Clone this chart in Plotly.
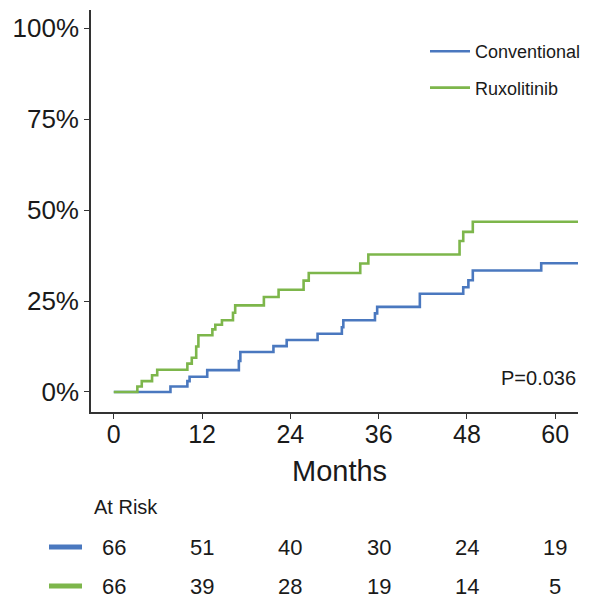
import plotly.graph_objects as go

# Cumulative incidence curves (months, percent)
conv_t = [0, 7.7, 10.0, 10.3, 12.7, 17.0, 17.2, 21.7, 23.5, 27.7, 31.0, 31.2, 35.5, 35.8, 41.6, 47.5, 48.2, 48.8, 58.1, 63.1]
conv_p = [0, 1.5, 3.0, 4.2, 6.0, 8.5, 11.0, 12.6, 14.3, 16.0, 17.8, 19.7, 21.6, 23.4, 27.0, 28.8, 30.7, 33.4, 35.4, 35.4]

rux_t = [0, 3.2, 3.8, 5.2, 5.9, 10.0, 10.6, 11.2, 11.5, 13.4, 13.8, 14.7, 16.2, 16.5, 20.4, 22.4, 25.8, 26.5, 33.5, 34.6, 47.0, 47.5, 48.8, 63.1]
rux_p = [0, 1.5, 3.0, 4.6, 6.1, 7.8, 9.4, 12.5, 15.6, 17.2, 18.5, 19.7, 21.8, 23.8, 26.1, 28.1, 30.6, 32.7, 35.3, 37.8, 41.5, 44.0, 46.8, 46.8]

x_ticks = [0, 12, 24, 36, 48, 60]
y_ticks = [0, 25, 50, 75, 100]
y_tick_labels = ["0%", "25%", "50%", "75%", "100%"]

risk_conv = [66, 51, 40, 30, 24, 19]
risk_rux = [66, 39, 28, 19, 14, 5]
p_value_text = "P=0.036"

BLUE = "#4A78BF"
GREEN = "#7DB64B"
TXT = "#1a1a1a"
FONT = "Liberation Sans, Arial, Helvetica, sans-serif"

# page offset (browser body margin) compensation
OFF = 8
W, H = 595 - OFF, 602 - OFF

fig = go.Figure()
fig.add_trace(go.Scatter(x=conv_t, y=conv_p, mode="lines", line=dict(color=BLUE, width=2.6, shape="hv"),
                         name="Conventional", legendgroup="a"))
fig.add_trace(go.Scatter(x=rux_t, y=rux_p, mode="lines", line=dict(color=GREEN, width=2.6, shape="hv"),
                         name="Ruxolitinib", legendgroup="b"))

# plot area geometry in window pixels
top_px, bot_px = 10, 412
l_px, r_px = 91, 578
ph = bot_px - top_px
pw = r_px - l_px
def py(ypix):
    return (bot_px - ypix) / ph
def pxp(xpix):
    return (xpix - l_px) / pw

annotations = []
annotations.append(dict(text=p_value_text, xref="paper", yref="paper", x=1.0, y=py(378), xanchor="right",
                        yanchor="middle", showarrow=False, font=dict(size=20, color=TXT, family=FONT)))
annotations.append(dict(text="At Risk", xref="paper", yref="paper", x=pxp(92), y=py(507), xanchor="left",
                        yanchor="middle", showarrow=False, font=dict(size=20, color=TXT, family=FONT)))
annotations.append(dict(text="Months", xref="paper", yref="paper", x=pxp(339), y=py(471), xanchor="center",
                        yanchor="middle", showarrow=False, font=dict(size=29, color=TXT, family=FONT)))
for xt, a, b in zip(x_ticks, risk_conv, risk_rux):
    annotations.append(dict(text=str(a), xref="x", yref="paper", x=xt, y=py(547), xanchor="center",
                            yanchor="middle", showarrow=False, font=dict(size=22, color=TXT, family=FONT)))
    annotations.append(dict(text=str(b), xref="x", yref="paper", x=xt, y=py(586), xanchor="center",
                            yanchor="middle", showarrow=False, font=dict(size=22, color=TXT, family=FONT)))

shapes = []
for ypix, col in [(547, BLUE), (586, GREEN)]:
    shapes.append(dict(type="line", xref="paper", yref="paper", x0=pxp(49), x1=pxp(82), y0=py(ypix), y1=py(ypix),
                       line=dict(color=col, width=5)))

fig.update_layout(
    width=W, height=H,
    margin=dict(l=l_px - OFF, r=595 - r_px, t=top_px - OFF, b=602 - bot_px, autoexpand=False),
    plot_bgcolor="white", paper_bgcolor="white",
    font=dict(family=FONT, color=TXT),
    showlegend=True,
    legend=dict(x=pxp(425), y=py(33), xanchor="left", yanchor="top", bgcolor="rgba(0,0,0,0)",
                font=dict(size=18, color=TXT, family=FONT), tracegroupgap=10, traceorder="grouped",
                itemwidth=40),
    annotations=annotations,
    shapes=shapes,
)
fig.update_xaxes(range=[-3.1, 63.1], tickvals=x_ticks, ticktext=[str(v) for v in x_ticks],
                 showline=True, linecolor="#333333", linewidth=1.6, ticks="outside", ticklen=5,
                 tickcolor="#333333", tickwidth=1.4, showgrid=False, zeroline=False, automargin=False,
                 ticklabelstandoff=-6,
                 tickfont=dict(size=25, color=TXT, family=FONT))
fig.update_yaxes(range=[-5.5, 105], tickvals=y_ticks, ticktext=y_tick_labels,
                 showline=True, linecolor="#333333", linewidth=1.6, ticks="outside", ticklen=5,
                 tickcolor="#333333", tickwidth=1.4, showgrid=False, zeroline=False, automargin=False,
                 tickfont=dict(size=26, color=TXT, family=FONT))

fig.write_html("out.html")
